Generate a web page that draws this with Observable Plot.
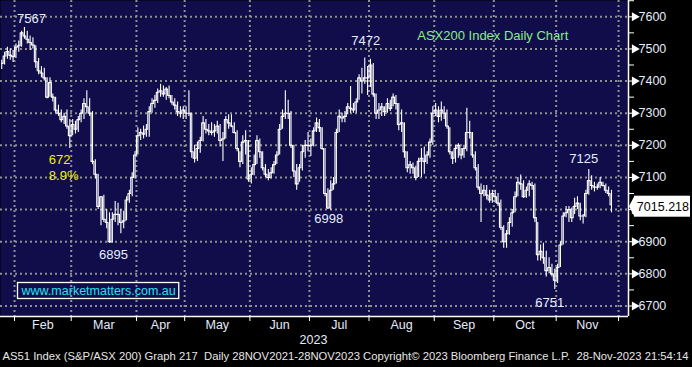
<!DOCTYPE html>
<html><head><meta charset="utf-8">
<script src="https://cdn.jsdelivr.net/npm/d3@7"></script>
<script src="https://cdn.jsdelivr.net/npm/@observablehq/plot@0.6"></script>
<style>
body{margin:0;background:#000;}
#chart svg{display:block;}
</style></head><body><div id="chart"></div>
<script>
// ---- data (ASX200 daily, 24 Jan 2023 - 28 Nov 2023) ----
const janShown = 5; // trading days of January that are visible
const monthNames = ["Feb","Mar","Apr","May","Jun","Jul","Aug","Sep","Oct","Nov"];
const monthTradingDays = [20,23,17,23,21,21,23,21,22,22];
const yearLabel = "2023";
const yTicks = [6700,6800,6900,7000,7100,7200,7300,7400,7500,7600];
const yMinorTicks = [6700,6750,6800,6850,6900,6950,7000,7050,7100,7150,7200,7250,7300,7350,7400,7450,7500,7550,7600,7650];

const high = [
  7465,7490,7505,7500,7495,
  7515,7525,7555,7567,7555,7540,7535,7510,7470,7445,7440,7410,7410,7360,7350,7325,7310,7300,7310,7280,
  7280,7275,7290,7310,7345,7370,7345,7305,7155,7110,7040,7045,7000,6990,6990,7025,7020,7000,6995,7040,7060,7115,7180,
  7255,7250,7260,7265,7320,7345,7355,7375,7390,7385,7380,7385,7355,7345,7335,7320,7320,
  7320,7370,7300,7200,7210,7225,7290,7280,7265,7270,7265,7275,7265,7240,7290,7295,7295,7270,7245,7180,7230,7245,7215,
  7130,7170,7230,7220,7180,7140,7125,7130,7150,7180,7265,7310,7370,7340,7305,7200,7140,7140,7200,7215,7240,
  7220,7255,7285,7280,7255,7190,7065,7090,7100,7250,7310,7300,7305,7330,7383,7330,7345,7420,7440,7472,7445,
  7468,7455,7360,7330,7330,7320,7345,7340,7360,7355,7330,7310,7270,7180,7150,7145,7135,7160,7190,7195,7180,7220,7320,
  7330,7320,7335,7320,7310,7255,7180,7200,7205,7190,7200,7315,7275,7240,7180,7140,7080,7075,7075,7060,7060,
  7060,7050,7030,6950,6935,6975,7000,7055,7100,7108,7090,7070,7090,7085,7080,6960,6890,6895,6870,6850,6830,6815,
  6830,6900,6990,7010,7010,7005,7035,7040,7020,6985,7060,7125,7105,7085,7080,7100,7085,7080,7070,7060
];
const low = [
  7436,7450,7468,7465,7458,
  7470,7490,7505,7530,7515,7495,7500,7440,7420,7410,7400,7345,7350,7335,7300,7290,7270,7265,7250,7190,
  7230,7235,7240,7270,7280,7300,7290,7140,7095,7000,6950,6960,6940,6895,6895,6960,6950,6925,6940,6965,7020,7040,7095,
  7170,7215,7220,7225,7225,7300,7315,7330,7350,7350,7340,7345,7325,7310,7290,7285,7280,
  7280,7290,7160,7145,7150,7175,7210,7235,7230,7230,7225,7235,7195,7150,7220,7250,7255,7235,7180,7130,7140,7170,7085,
  7080,7105,7140,7160,7120,7100,7090,7095,7110,7140,7170,7250,7280,7280,7190,7100,7060,7085,7120,7160,7180,
  7165,7195,7240,7240,7185,7040,7000,6998,7060,7080,7240,7270,7270,7295,7300,7300,7300,7340,7360,7390,7355,
  7380,7350,7280,7280,7290,7290,7300,7305,7320,7310,7245,7240,7160,7115,7110,7110,7090,7100,7100,7110,7140,7160,7200,
  7290,7270,7275,7280,7250,7170,7140,7145,7160,7155,7160,7180,7220,7160,7120,7060,6960,7040,7030,7020,7020,
  7020,7010,6935,6880,6880,6920,6945,6990,7040,7060,7035,7035,7040,7060,6960,6840,6840,6830,6790,6800,6790,6751,
  6770,6820,6890,6975,6960,6960,6985,7000,6965,6955,6975,7045,7060,7055,7060,7065,7070,7050,7040,6990
];
const close = [
  7455,7478,7492,7480,7476,
  7505,7510,7550,7540,7530,7520,7512,7460,7432,7425,7410,7350,7395,7350,7310,7300,7280,7290,7260,7230,
  7265,7250,7280,7300,7330,7320,7300,7150,7110,7010,7040,6970,6960,6900,6970,6985,6985,6960,6965,7030,7050,7100,7170,
  7230,7240,7235,7250,7305,7330,7340,7365,7370,7360,7375,7355,7335,7325,7305,7300,7310,
  7300,7300,7180,7160,7190,7215,7270,7250,7245,7240,7245,7260,7215,7220,7280,7270,7260,7240,7190,7150,7210,7215,7095,
  7110,7140,7215,7180,7130,7110,7100,7115,7140,7170,7250,7290,7300,7300,7200,7120,7080,7130,7180,7200,7200,
  7200,7245,7270,7255,7190,7050,7005,7060,7080,7240,7290,7285,7290,7320,7315,7310,7335,7410,7400,7410,7410,
  7450,7360,7300,7310,7320,7305,7330,7315,7350,7330,7265,7270,7180,7130,7140,7130,7100,7150,7160,7150,7170,7210,7300,
  7310,7290,7310,7300,7260,7180,7160,7190,7200,7170,7190,7240,7240,7170,7130,7070,7050,7060,7045,7030,7050,
  7040,7020,6945,6900,6925,6960,6990,7040,7085,7080,7040,7060,7080,7075,6975,6860,6870,6850,6810,6820,6800,6780,
  6820,6890,6980,6990,7000,6975,7010,7020,6980,6980,7050,7090,7075,7070,7070,7085,7075,7060,7050,7015.218
];
// labelled highs / lows (trading-day index from 1 Feb, label text)
const pointLabels = [
  {i: 3,   label: "7567", key: "high", dx: 7,  dy: -9},
  {i: 123, label: "7472", key: "high", dx: 1,  dy: -17},
  {i: 33,  label: "6895", key: "low",  dx: 4,  dy: 11},
  {i: 111, label: "6998", key: "low",  dx: -2, dy: 9},
  {i: 202, label: "7125", key: "high", dx: -5, dy: -11},
  {i: 190, label: "6751", key: "low",  dx: -5, dy: 13}
];
const fallText = "672\n8.9%";
const titleText = "ASX200 Index Daily Chart";
const urlText = "www.marketmatters.com.au";
const footerText = "AS51 Index (S&P/ASX 200) Graph 217  Daily 28NOV2021-28NOV2023 Copyright\u00A9 2023 Bloomberg Finance L.P.  28-Nov-2023 21:54:14";

// ---- build ----
const data = close.map((c, k) => ({i: k - janShown, high: high[k], low: low[k], close: c}));
const byI = new Map(data.map(d => [d.i, d]));
const bounds = [-0.5];
monthTradingDays.forEach(n => bounds.push(bounds[bounds.length - 1] + n));
const monthMarks = monthNames.map((m, k) => ({x: (bounds[k] + bounds[k + 1]) / 2, label: m}));
const xDomain = [-5.44, 216.0];
const yDomain = [6667.3, 7650.7];
const navy = "#110d4b";
const txt = "#e4ecff";
const labels = pointLabels.map(p => ({...p, v: byI.get(p.i)[p.key]}));
const last = data[data.length - 1];

const plot = Plot.plot({
  width: 692, height: 367,
  marginTop: 0, marginLeft: 0, marginRight: 64, marginBottom: 51,
  style: {background: "#000", fontFamily: "'Liberation Sans', Arial, sans-serif", fontSize: "12.5px", color: txt},
  x: {domain: xDomain, axis: null},
  y: {domain: yDomain, axis: null},
  marks: [
    Plot.frame({fill: navy, stroke: null}),
    Plot.ruleY(yTicks, {stroke: "#8f8f8f", strokeWidth: 2, strokeDasharray: "2,3"}),
    Plot.ruleX(bounds, {stroke: "#8f8f8f", strokeWidth: 2, strokeDasharray: "2,3"}),
    Plot.ruleX(data, {x: "i", y1: "low", y2: "high", stroke: "#fff", strokeWidth: 1.1}),
    Plot.line(data, {x: "i", y: "close", curve: "step", stroke: "#fff", strokeWidth: 1.1}),
    Plot.ruleX([xDomain[1]], {stroke: "#fff", strokeWidth: 1.5}),
    Plot.ruleY([yDomain[0]], {stroke: "#fff", strokeWidth: 1.5}),
    Plot.axisY({ticks: yMinorTicks, anchor: "right", tickSize: 5, tickFormat: () => "", stroke: "#fff", label: null}),
    Plot.dot(yTicks, {y: d => d, frameAnchor: "right", symbol: "triangle", r: 3.4, rotate: 90, dx: 6, fill: "#fff", stroke: "none"}),
    Plot.text(yTicks, {y: d => d, text: d => String(d), frameAnchor: "right", textAnchor: "start", dx: 10, fill: txt}),
    Plot.axisX({ticks: bounds, anchor: "bottom", tickSize: 5, tickFormat: () => "", stroke: "#fff", label: null}),
    Plot.text(monthMarks, {x: "x", text: "label", frameAnchor: "bottom", dy: 12, fill: txt}),
    Plot.text([yearLabel], {x: bounds[5], text: d => d, frameAnchor: "bottom", dy: 27, dx: 4, fill: txt}),
    Plot.text([footerText], {frameAnchor: "bottom-left", textAnchor: "start", dx: 2, dy: 43, fill: "#e6e6e6", fontSize: 11}),
    ...labels.map(p => Plot.text([p], {x: "i", y: "v", text: "label", dx: p.dx, dy: p.dy, fill: txt, fontSize: 13})),
    Plot.text([fallText], {x: 11.6, y: 7134, text: d => d, textAnchor: "start", lineHeight: 1.25, fill: "#f2f200", fontSize: 13}),
    Plot.text([titleText], {x: 141.5, y: 7540, text: d => d, textAnchor: "start", fill: "#86ee86", fontSize: 13}),
    Plot.text([urlText], {frameAnchor: "bottom-left", textAnchor: "start", dx: 21, dy: -22, fill: "#22e2f2", fontSize: 12.5})
  ]
});
document.getElementById("chart").appendChild(plot);

const svg = d3.select(plot);
const svgBox = plot.getBoundingClientRect();
// footer fitted to the full width
svg.selectAll("text").filter(function () { return this.textContent === footerText; })
  .attr("textLength", 686).attr("lengthAdjust", "spacingAndGlyphs");
// url box
const urlNode = svg.selectAll("text").filter(function () { return this.textContent === urlText; }).node();
if (urlNode) {
  const r = urlNode.getBoundingClientRect();
  svg.append("rect")
    .attr("x", r.left - svgBox.left - 3).attr("y", r.top - svgBox.top - 1)
    .attr("width", r.width + 6).attr("height", r.height + 2)
    .attr("fill", "none").attr("stroke", "#fff").attr("stroke-width", 1.3);
}
// last value tag
const xs = plot.scale("x"), ys = plot.scale("y");
const x0 = xs.apply(xDomain[1]);
const yc = ys.apply(last.close) + 2;
const g = svg.append("g").attr("class", "last-tag");
g.append("rect")
  .attr("x", x0 + 6).attr("y", yc - 10.5).attr("width", 690 - (x0 + 6)).attr("height", 21)
  .style("fill", "#ffffff").style("stroke", "none");
g.append("polygon")
  .attr("points", `${x0 + 1},${yc} ${x0 + 6.5},${yc - 10.5} ${x0 + 6.5},${yc + 10.5}`)
  .style("fill", "#ffffff").style("stroke", "none");
g.append("text").attr("x", 689).attr("y", yc).attr("dy", "0.36em")
  .attr("text-anchor", "end")
  .style("fill", "#000000").style("font-size", "12.5px")
  .style("font-family", "'Liberation Sans', Arial, sans-serif")
  .text(d3.format(".3f")(last.close));
</script></body></html>
